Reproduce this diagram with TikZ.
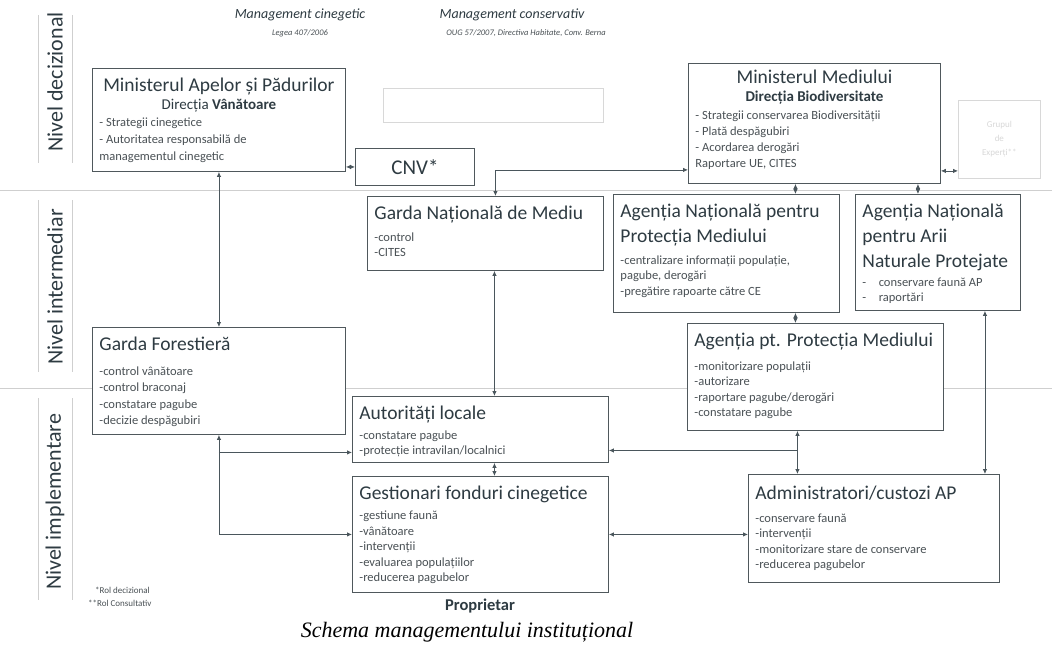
\documentclass[tikz,border=0pt]{standalone}
\usepackage{fontspec}
\setmainfont{Carlito}
\newfontfamily\capfont{Liberation Serif}
\usetikzlibrary{arrows.meta,positioning,calc}
\definecolor{ink}{HTML}{2E3B42}
\definecolor{itemink}{HTML}{4A5155}
\definecolor{frame}{HTML}{4F585C}
\definecolor{wire}{HTML}{4A565C}
\definecolor{band}{HTML}{CFCFCF}
\definecolor{ghost}{HTML}{D8D8D8}
\newcommand{\boxttl}{\fontsize{19.5}{25}\selectfont\color{ink}}
\newcommand{\boxsub}{\fontsize{15}{18}\selectfont\color{ink}}
\newcommand{\boxitm}{\fontsize{12.5}{15.5}\selectfont\color{itemink}}
\newcommand{\boxtext}[4][6]{\parbox[t][\dimexpr#3pt-8pt\relax][t]{\dimexpr#2pt-14pt\relax}{\raggedright\vspace*{#1pt}#4}}
\tikzset{
  box/.style={draw=frame, fill=white, line width=0.9pt, anchor=north west,
              inner xsep=7pt, inner ysep=4pt},
  ghostbox/.style={draw=ghost, line width=0.7pt, anchor=north west, inner sep=0pt},
  link/.style={draw=wire, line width=0.8pt},
  dbl/.style={link, {Latex[length=5pt,width=4.5pt]}-{Latex[length=5pt,width=4.5pt]}},
  toarr/.style={link, -{Latex[length=5pt,width=4.5pt]}},
  level/.style={rotate=90, font=\fontsize{22}{26}\selectfont, text=ink},
  bandline/.style={draw=band, line width=0.6pt},
  head/.style={font=\fontsize{14}{16}\selectfont\itshape, text=ink},
  headsub/.style={font=\fontsize{8.5}{10}\selectfont\itshape, text=itemink},
  note/.style={font=\fontsize{9}{10}\selectfont, text=itemink, anchor=west, inner sep=0pt}
}

\begin{document}
\begin{tikzpicture}[x=1pt,y=1pt]
  \useasboundingbox (0,0) rectangle (1052,-648);
  \fill[white] (0,0) rectangle (1052,-648);
  % level bands
  \draw[bandline] (0,-190) -- (1052,-190);
  \draw[bandline] (0,-388) -- (1052,-388);
  \foreach \ya/\yb in {15/163,200/372,398/600} {
    \draw[bandline] (38,-\ya) -- (38,-\yb);
    \draw[bandline] (72,-\ya) -- (72,-\yb);
  }
  \node[level] (lvdec) at (55,-82) {Nivel decizional};
  \node[level] (lvint) at (55,-287) {Nivel intermediar};
  \node[level] (lvimp) at (55,-502) {Nivel implementare};

  % headings
  \node[head] (hcin) at (300,-15) {Management cinegetic};
  \node[headsub] (hcinsub) at (300,-33) {Legea 407/2006};
  \node[head] (hcons) at (512,-15) {Management conservativ};
  \node[headsub] (hconssub) at (526,-33) {OUG 57/2007, Directiva Habitate, Conv. Berna};

  % faded boxes
  \node[ghostbox, minimum width=220pt, minimum height=34pt] (gcom) at (383,-88) {};
  \node[ghostbox, minimum width=82pt, minimum height=78pt, align=center, text=ghost,
        font=\fontsize{9}{14}\selectfont] (gexp) at (958,-100) {Grupul\\de\\Experți**};

  % decision level
  \node[box] (map) at (92,-68) {\boxtext{253}{103}{%
    {\centering\boxttl Ministerul Apelor și Pădurilor\par}
    {\centering\boxsub Direcția \textbf{Vânătoare}\par}
    {\boxitm\baselineskip=17pt - Strategii cinegetice\\- Autoritatea responsabilă de\\managementul cinegetic\par}}};
  \node[box, inner sep=0pt, minimum width=119pt, minimum height=37pt,
        font=\fontsize{21}{24}\selectfont, text=ink] (cnv) at (355,-148) {CNV*};
  \node[box] (mm) at (688,-63) {\boxtext[2.5]{252}{120}{%
    {\centering\boxttl Ministerul Mediului\par}
    {\centering\boxsub\bfseries Direcția Biodiversitate\par}\vspace{2pt}
    {\boxitm\baselineskip=16pt - Strategii conservarea Biodiversității\\- Plată despăgubiri\\- Acordarea derogări\\Raportare UE, CITES\par}}};

  % intermediate level
  \node[box] (gnm) at (367,-196) {\boxtext{236}{74}{%
    {\boxttl Garda Națională de Mediu\par}\vspace{6pt}
    {\boxitm -control\\-CITES\par}}};
  \node[box] (anpm) at (613,-194) {\boxtext{226}{118}{%
    {\boxttl Agenția Națională pentru\\Protecția Mediului\par}\vspace{6pt}
    {\boxitm -centralizare informații populație,\\pagube, derogări\\-pregătire rapoarte către CE\par}}};
  \node[box] (anan) at (855,-194) {\boxtext{165}{116}{%
    {\boxttl Agenția Națională\\pentru Arii\\Naturale Protejate\par}\vspace{3pt}
    {\boxitm -\quad conservare faună AP\\-\quad raportări\par}}};
  \node[box] (gf) at (92,-327) {\boxtext{253}{107}{%
    {\boxttl Garda Forestieră\par}\vspace{8pt}
    {\boxitm\baselineskip=16.5pt -control vânătoare\\-control braconaj\\-constatare pagube\\-decizie despăgubiri\par}}};
  \node[box] (apm) at (687,-323) {\boxtext{256}{107}{%
    {\boxttl Agenția pt. Protecția Mediului\par}\vspace{8pt}
    {\boxitm -monitorizare populații\\-autorizare\\-raportare pagube/derogări\\-constatare pagube\par}}};

  % implementation level
  \node[box] (al) at (352,-396) {\boxtext{256}{66}{%
    {\boxttl Autorități locale\par}\vspace{4pt}
    {\boxitm -constatare pagube\\-protecție intravilan/localnici\par}}};
  \node[box] (gfc) at (352,-476) {\boxtext{256}{116}{%
    {\boxttl Gestionari fonduri cinegetice\par}\vspace{4.5pt}
    {\boxitm -gestiune faună\\-vânătoare\\-intervenții\\-evaluarea populațiilor\\-reducerea pagubelor\par}}};
  \node[box] (acap) at (748,-474) {\boxtext[8]{251}{108}{%
    {\boxttl Administratori/custozi AP\par}\vspace{7pt}
    {\boxitm -conservare faună\\-intervenții\\-monitorizare stare de conservare\\-reducerea pagubelor\par}}};

  % connector ends
  \coordinate (alin) at ([yshift=-23pt]al.west);
  \coordinate (alout) at ([yshift=-21pt]al.east);
  \coordinate (mmin) at ([yshift=14pt]mm.south west);
  \coordinate (mmex) at ([yshift=13pt]mm.south east);
  \coordinate (gnmtop) at ([xshift=10pt]gnm.north);
  \coordinate (anpmtop) at ([xshift=69pt]anpm.north);
  \coordinate (anpmbot) at ([xshift=69pt]anpm.south);
  \coordinate (anantop) at ([xshift=-20pt]anan.north);
  \coordinate (ananbot) at ([xshift=47pt]anan.south);
  \coordinate (apmbot) at ([xshift=-18pt]apm.south);
  \coordinate (altop) at ([xshift=14pt]al.north);
  \coordinate (albot) at ([xshift=14pt]al.south);

  % connectors
  \draw[dbl] (map.south) -- (gf.north);
  \draw[dbl] (cnv.west) -- (cnv.west -| map.east);
  \draw[dbl] (gf.south) |- (gfc.west);
  \draw[toarr] (alin -| gf.south) -- (alin);
  \draw[dbl] (gnmtop) |- (mmin);
  \draw[dbl] (anpmtop) -- (anpmtop |- mm.south);
  \draw[dbl] (anantop) -- (anantop |- mm.south);
  \draw[dbl] (mmex) -- (mmex -| gexp.west);
  \draw[dbl] (anpmbot) -- (anpmbot |- apm.north);
  \draw[dbl] (ananbot) -- (ananbot |- acap.north);
  \draw[dbl] (apmbot) -- (apmbot |- acap.north);
  \draw[toarr] (alout -| apmbot) -- (alout);
  \draw[dbl] (gfc.east) -- (gfc.east -| acap.west);
  \draw[dbl] (altop) -- (altop |- gnm.south);
  \draw[dbl] (albot) -- (albot |- gfc.north);

  % notes and caption
  \node[note] (fn1) at (95,-590) {*Rol decizional};
  \node[note] (fn2) at (88,-603) {**Rol Consultativ};
  \node[font=\fontsize{16.5}{18}\selectfont\bfseries, text=ink] (prop) at (480,-606) {Proprietar};
  \node[font=\capfont\itshape\fontsize{22}{24}\selectfont] (cap) at (467,-632)
    {Schema managementului instituțional};
\end{tikzpicture}
\end{document}
